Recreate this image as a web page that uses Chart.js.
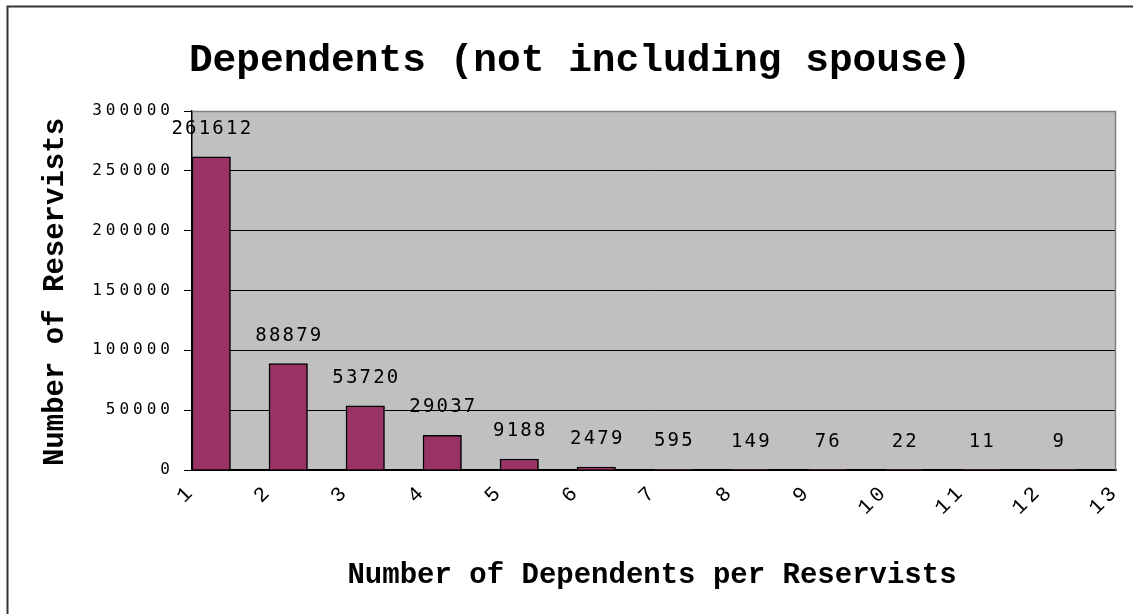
<!DOCTYPE html>
<html><head><meta charset="utf-8">
<script src="https://cdn.jsdelivr.net/npm/chart.js@4/dist/chart.umd.min.js"></script>
<style>html,body{margin:0;padding:0;background:#fff;overflow:hidden}canvas{display:block}</style>
</head><body>
<canvas id="c" width="1133" height="614"></canvas>
<script>
const titleText = 'Dependents (not including spouse)';
const xAxisTitle = 'Number of Dependents per Reservists';
const yAxisTitle = 'Number of Reservists';
const categories = ['1','2','3','4','5','6','7','8','9','10','11','12'];
const values = [261612, 88879, 53720, 29037, 9188, 2479, 595, 149, 76, 22, 11, 9];
const xTickLabels = ['1','2','3','4','5','6','7','8','9','10','11','12','13'];
const yMin = 0, yMax = 300000, yStep = 50000;

const decor = {
  id: 'decor',
  beforeDraw(chart) {
    const {ctx, chartArea: a} = chart;
    ctx.save();
    ctx.fillStyle = '#fff';
    ctx.fillRect(0, 0, chart.width, chart.height);
    ctx.fillStyle = '#c0c0c0';
    ctx.fillRect(a.left, a.top, a.right - a.left, a.bottom - a.top);
    // outer chart border
    ctx.strokeStyle = '#333';
    ctx.lineWidth = 2;
    ctx.strokeRect(7.5, 6.5, 3000, 3000);
    ctx.restore();
    ctx.letterSpacing = '4px';
  },
  afterDatasetsDraw(chart) {
    const {ctx, chartArea: a} = chart;
    ctx.save();
    // plot border top/right
    ctx.strokeStyle = '#808080';
    ctx.lineWidth = 1.5;
    ctx.beginPath();
    ctx.moveTo(a.left, a.top + 0.5);
    ctx.lineTo(a.right - 0.5, a.top + 0.5);
    ctx.lineTo(a.right - 0.5, a.bottom);
    ctx.stroke();
    // data labels
    const sp = 2.2;
    ctx.letterSpacing = sp + 'px';
    ctx.font = '19px "DejaVu Sans Mono"';
    ctx.fillStyle = '#000';
    ctx.textAlign = 'center';
    ctx.textBaseline = 'middle';
    const meta = chart.getDatasetMeta(0);
    meta.data.forEach((el, i) => {
      ctx.fillText(String(values[i]), el.x + sp / 2, el.y - 28);
    });
    // titles
    ctx.letterSpacing = '0px';
    ctx.font = 'bold 39.5px "Liberation Mono"';
    ctx.fillText(titleText, 580, 61);
    ctx.font = 'bold 29px "Liberation Mono"';
    ctx.fillText(xAxisTitle, 652, 576);
    ctx.translate(56, 292);
    ctx.rotate(-Math.PI / 2);
    ctx.fillText(yAxisTitle, 0, 0);
    ctx.restore();
  },
  afterDraw(chart) {
    chart.ctx.letterSpacing = '0px';
  }
};

new Chart(document.getElementById('c'), {
  type: 'bar',
  data: {
    labels: categories,
    datasets: [
      { data: values, backgroundColor: '#993366', borderColor: '#000', borderWidth: 1.5,
        categoryPercentage: 1, barPercentage: 1, xAxisID: 'x', yAxisID: 'y' },
      { data: [], backgroundColor: 'rgba(0,0,0,0)', categoryPercentage: 1, barPercentage: 1, xAxisID: 'x', yAxisID: 'y' }
    ]
  },
  options: {
    responsive: false,
    animation: false,
    devicePixelRatio: 1,
    layout: { padding: { left: 0, top: 111, right: 17, bottom: 0 } },
    plugins: { legend: { display: false }, title: { display: false }, tooltip: { enabled: false } },
    scales: {
      x: { type: 'category', display: false, offset: true },
      x2: {
        type: 'linear', position: 'bottom', min: 1, max: 13, offset: false,
        afterFit(s) { s.height = 144; s.paddingLeft = 0; s.paddingRight = 0; },
        grid: { display: false },
        border: { display: true, color: '#000', width: 1.5 },
        ticks: {
          stepSize: 1, autoSkip: false, minRotation: 45, maxRotation: 45, padding: 1,
          color: '#000', font: { family: '"Liberation Mono"', size: 21 },
          callback: (v) => xTickLabels[v - 1]
        }
      },
      y: {
        min: yMin, max: yMax,
        afterFit(s) { s.width = 192; s.paddingTop = 0; s.paddingBottom = 0; },
        grid: { color: (c) => c.tick && c.tick.value === yMax ? 'rgba(0,0,0,0)' : '#000', lineWidth: 1, tickLength: 8, tickColor: '#000' },
        border: { display: true, color: '#000', width: 1.5 },
        ticks: {
          stepSize: yStep, padding: 10, color: '#000',
          font: { family: '"DejaVu Sans Mono"', size: 16 },
          callback: (v) => String(v)
        }
      }
    }
  },
  plugins: [decor]
});
</script>
</body></html>
